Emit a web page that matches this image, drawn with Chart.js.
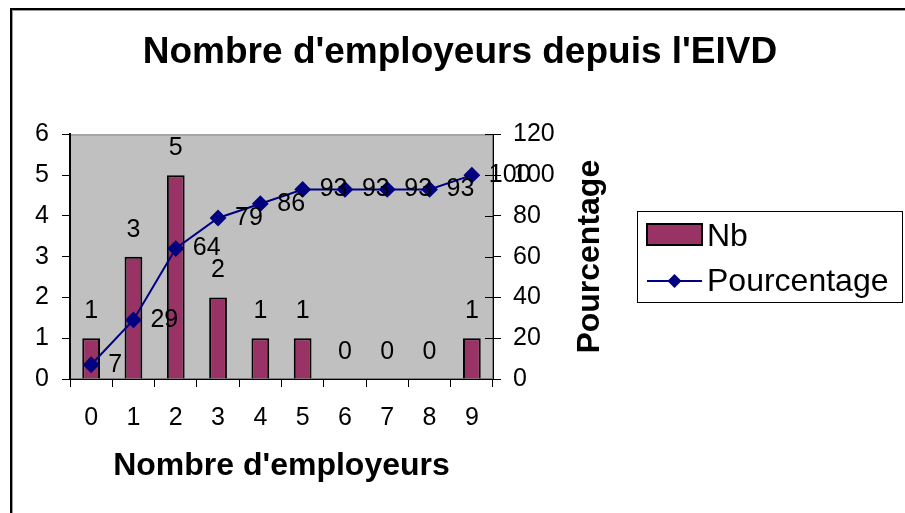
<!DOCTYPE html>
<html>
<head>
<meta charset="utf-8">
<script src="https://cdn.jsdelivr.net/npm/chart.js@4/dist/chart.umd.min.js"></script>
<style>
  html, body { margin: 0; padding: 0; background: #fff; overflow: hidden; }
  #frame { position: absolute; left: 10px; top: 8px; width: 1000px; height: 600px;
           border-left: 2px solid #000; border-top: 2px solid #000;
           box-shadow: inset 1px 1px 0 #999; }
  #wrap { position: absolute; left: 0; top: 0; width: 905px; height: 513px; }
</style>
</head>
<body>
<div id="frame"></div>
<div id="wrap"><canvas id="chart" width="905" height="513"></canvas></div>
<script>
var categories = ["0", "1", "2", "3", "4", "5", "6", "7", "8", "9"];
var nbValues = [1, 3, 5, 2, 1, 1, 0, 0, 0, 1];
var pctValues = [7, 29, 64, 79, 86, 93, 93, 93, 93, 100];
var leftTicks = [0, 1, 2, 3, 4, 5, 6];
var rightTicks = [0, 20, 40, 60, 80, 100, 120];

var FONT = "'Liberation Sans', Arial, sans-serif";
Chart.defaults.font.family = FONT;
Chart.defaults.color = "#000";

var plotBackground = {
  id: "plotBackground",
  beforeDraw: function (chart) {
    var a = chart.chartArea, ctx = chart.ctx;
    ctx.save();
    ctx.fillStyle = "#c0c0c0";
    ctx.fillRect(a.left, a.top, a.right - a.left, a.bottom - a.top);
    ctx.strokeStyle = "#808080";
    ctx.lineWidth = 1;
    ctx.strokeRect(a.left + 0.5, a.top + 0.5, a.right - a.left - 1, a.bottom - a.top - 1);
    ctx.restore();
  }
};

var extras = {
  id: "extras",
  afterDatasetsDraw: function (chart) {
    var ctx = chart.ctx;
    ctx.save();
    ctx.font = "25px " + FONT;
    ctx.fillStyle = "#000";
    ctx.textBaseline = "middle";
    chart.data.datasets.forEach(function (ds, i) {
      var meta = chart.getDatasetMeta(i);
      meta.data.forEach(function (el, j) {
        if (ds.type === "line") {
          ctx.textAlign = "left";
          ctx.fillText(String(ds.data[j]), el.x + 17, el.y);
        } else {
          ctx.textAlign = "center";
          ctx.fillText(String(ds.data[j]), el.x, el.y - 27);
        }
      });
    });
    ctx.restore();
  },
  afterDraw: function (chart) {
    var ctx = chart.ctx, a = chart.chartArea, y1 = chart.scales.y1;
    ctx.save();
    // inner half of the right axis tick marks
    ctx.strokeStyle = "#000";
    ctx.lineWidth = 1;
    rightTicks.forEach(function (v) {
      var py = Math.round(y1.getPixelForValue(v)) + 0.5;
      ctx.beginPath();
      ctx.moveTo(a.right - 8, py);
      ctx.lineTo(a.right, py);
      ctx.stroke();
    });
    // right axis title, reading upwards
    ctx.font = "bold 32px " + FONT;
    ctx.fillStyle = "#000";
    ctx.textAlign = "center";
    ctx.textBaseline = "middle";
    ctx.translate(590, (a.top + a.bottom) / 2);
    ctx.rotate(-Math.PI / 2);
    ctx.fillText("Pourcentage", 0, 0);
    ctx.restore();

    // legend
    var bar = chart.data.datasets[1], line = chart.data.datasets[0];
    ctx.save();
    ctx.strokeStyle = "#000";
    ctx.lineWidth = 1;
    ctx.strokeRect(637.5, 211.5, 265, 91);
    ctx.fillStyle = bar.backgroundColor;
    ctx.fillRect(647, 224, 55, 21);
    ctx.lineWidth = 2;
    ctx.strokeRect(647, 224, 55, 21);
    ctx.strokeStyle = line.borderColor;
    ctx.beginPath();
    ctx.moveTo(647, 281);
    ctx.lineTo(702, 281);
    ctx.stroke();
    ctx.fillStyle = line.borderColor;
    ctx.beginPath();
    ctx.moveTo(674.5, 274);
    ctx.lineTo(681.5, 281);
    ctx.lineTo(674.5, 288);
    ctx.lineTo(667.5, 281);
    ctx.closePath();
    ctx.fill();
    ctx.fillStyle = "#000";
    ctx.font = "32px " + FONT;
    ctx.textAlign = "left";
    ctx.textBaseline = "middle";
    ctx.fillText(bar.label, 707, 237);
    ctx.fillText(line.label, 707, 282);
    ctx.restore();
  }
};

new Chart(document.getElementById("chart").getContext("2d"), {
  type: "bar",
  data: {
    labels: categories,
    datasets: [
      {
        type: "line",
        label: "Pourcentage",
        data: pctValues,
        yAxisID: "y1",
        borderColor: "#000080",
        backgroundColor: "#000080",
        borderWidth: 2,
        pointStyle: "rectRot",
        pointRadius: 7,
        pointHoverRadius: 7,
        tension: 0,
        order: 1
      },
      {
        type: "bar",
        label: "Nb",
        data: nbValues,
        yAxisID: "y",
        backgroundColor: "#993366",
        borderColor: "#000",
        borderWidth: 2,
        barPercentage: 0.42,
        categoryPercentage: 1,
        order: 2
      }
    ]
  },
  options: {
    responsive: false,
    animation: false,
    layout: { padding: { left: 15, right: 0, top: 0, bottom: 0 } },
    plugins: {
      legend: { display: false },
      tooltip: { enabled: false },
      title: {
        display: true,
        text: "Nombre d'employeurs depuis l'EIVD",
        font: { size: 37, weight: "bold" },
        color: "#000",
        padding: { top: 31, bottom: 59 }
      }
    },
    scales: {
      x: {
        grid: { offset: true, drawOnChartArea: false, drawTicks: true, tickLength: 8, color: "#000" },
        border: { color: "#000", width: 1 },
        ticks: { font: { size: 25 }, color: "#000", padding: 16, maxRotation: 0 },
        title: {
          display: true,
          text: "Nombre d'employeurs",
          font: { size: 32, weight: "bold" },
          color: "#000",
          padding: { top: 0, bottom: 28 }
        },
        afterFit: function (s) { s.height = 134; }
      },
      y: {
        position: "left",
        min: 0,
        max: 6,
        afterBuildTicks: function (s) { s.ticks = leftTicks.map(function (v) { return { value: v }; }); },
        grid: { drawOnChartArea: false, tickLength: 8, color: "#000" },
        border: { color: "#000", width: 2 },
        ticks: { font: { size: 25 }, color: "#000", padding: 13 },
        afterFit: function (s) { s.width = 55; }
      },
      y1: {
        position: "right",
        min: 0,
        max: 120,
        afterBuildTicks: function (s) { s.ticks = rightTicks.map(function (v) { return { value: v }; }); },
        grid: { drawOnChartArea: false, tickLength: 8, color: "#000" },
        border: { color: "#000", width: 1 },
        ticks: { font: { size: 25 }, color: "#000", padding: 12 },
        afterFit: function (s) { s.width = 412; }
      }
    }
  },
  plugins: [plotBackground, extras]
});
</script>
</body>
</html>
